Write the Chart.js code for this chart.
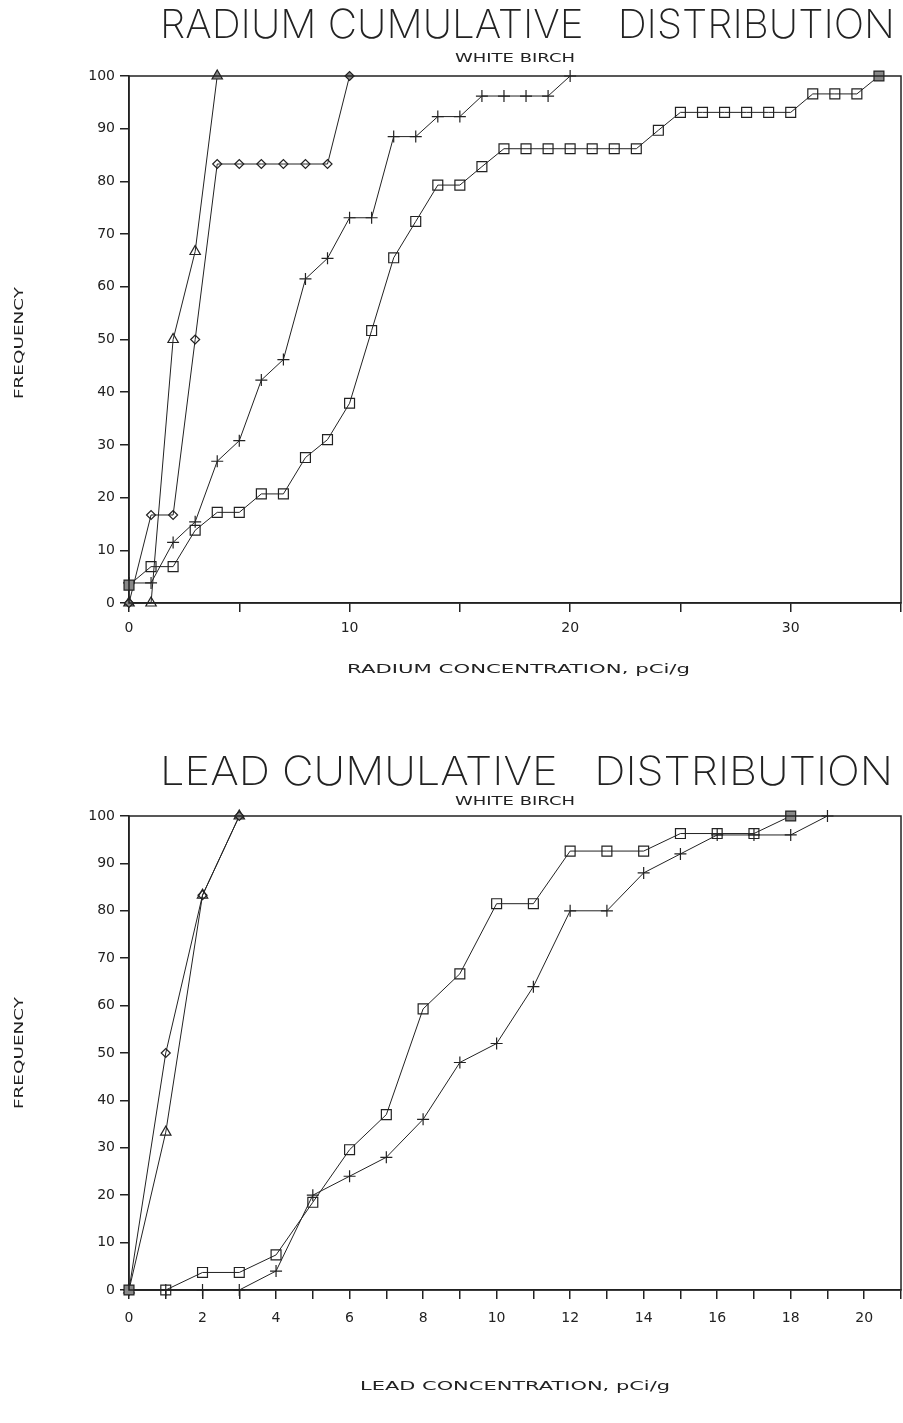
<!DOCTYPE html>
<html>
<head>
<meta charset="utf-8">
<script src="https://cdn.jsdelivr.net/npm/chart.js@4.4.0/dist/chart.umd.min.js"></script>
<style>
  body { margin: 0; background: #fff; }
  canvas { position: absolute; left: 0; }
  #radium { top: 0; }
  #lead { top: 705px; }
</style>
</head>
<body>
<canvas id="radium" width="903" height="705"></canvas>
<canvas id="lead" width="903" height="718"></canvas>
<script>
// cumulative frequency (%) at concentration 0, 1, 2, ... pCi/g
const freqTicks = [0, 10, 20, 30, 40, 50, 60, 70, 80, 90, 100];
const radiumXLabels = [0, 10, 20, 30];
const leadXLabels = [0, 2, 4, 6, 8, 10, 12, 14, 16, 18, 20];

const radiumSquare = [3.4, 6.9, 6.9, 13.8, 17.2, 17.2, 20.7, 20.7, 27.6, 31.0, 37.9, 51.7, 65.5, 72.4,
  79.3, 79.3, 82.8, 86.2, 86.2, 86.2, 86.2, 86.2, 86.2, 86.2, 89.7, 93.1, 93.1, 93.1, 93.1, 93.1, 93.1,
  96.6, 96.6, 96.6, 100];
const radiumPlus = [3.8, 3.8, 11.5, 15.4, 26.9, 30.8, 42.3, 46.2, 61.5, 65.4, 73.1, 73.1, 88.5, 88.5,
  92.3, 92.3, 96.2, 96.2, 96.2, 96.2, 100];
const radiumDiamond = [0, 16.7, 16.7, 50, 83.3, 83.3, 83.3, 83.3, 83.3, 83.3, 100];
const radiumTriangle = [0, 0, 50, 66.7, 100];

const leadSquare = [0, 0, 3.7, 3.7, 7.4, 18.5, 29.6, 37.0, 59.3, 66.7, 81.5, 81.5, 92.6, 92.6, 92.6,
  96.3, 96.3, 96.3, 100];
const leadPlus = [0, 0, 0, 0, 4, 20, 24, 28, 36, 48, 52, 64, 80, 80, 88, 92, 96, 96, 96, 100];
const leadDiamond = [0, 50, 83.3, 100];
const leadTriangle = [0, 33.3, 83.3, 100];

const ink = '#222';

function toPoints(values) {
  return values.map((y, x) => ({ x: x, y: y }));
}

function series(values, style, radius) {
  const last = values.length - 1;
  return {
    data: toPoints(values),
    borderColor: ink,
    borderWidth: 1,
    tension: 0,
    pointStyle: style,
    pointRadius: radius,
    pointBorderColor: ink,
    pointBorderWidth: 1.2,
    pointBackgroundColor: c => (c.dataIndex === last || c.dataIndex === 0 ? '#888' : 'rgba(0,0,0,0)'),
    clip: false
  };
}

// squeeze/stretch a line of text so it spans x0..x1
function fitText(ctx, text, x0, x1, y, font) {
  ctx.font = font;
  const w = ctx.measureText(text).width;
  ctx.save();
  ctx.translate(x0, y);
  ctx.scale((x1 - x0) / w, 1);
  ctx.textAlign = 'left';
  ctx.fillText(text, 0, 0);
  ctx.restore();
}

const plotter = {
  id: 'plotter',
  afterDraw(chart, args, o) {
    const { ctx, chartArea: a } = chart;
    ctx.save();
    ctx.strokeStyle = ink;
    ctx.lineWidth = 1.5;
    ctx.strokeRect(a.left, a.top, a.right - a.left, a.bottom - a.top);
    ctx.fillStyle = ink;
    ctx.textBaseline = 'alphabetic';
    fitText(ctx, o.title, o.titleX[0], o.titleX[1], o.titleY, '200 40px Inter');
    fitText(ctx, o.subtitle, 455, 575, o.subtitleY, '12px "DejaVu Sans"');
    fitText(ctx, o.xTitle, o.xTitleX[0], o.xTitleX[1], o.xTitleY, '12px "DejaVu Sans"');
    ctx.save();
    ctx.translate(23, o.yTitleY);
    ctx.rotate(-Math.PI / 2);
    fitText(ctx, 'FREQUENCY', -56, 56, 0, '12px "DejaVu Sans"');
    ctx.restore();
    ctx.restore();
  }
};

function makeChart(id, datasets, xMax, xStep, xLabels, frame) {
  const canvas = document.getElementById(id);
  return new Chart(canvas, {
    type: 'line',
    data: { datasets: datasets },
    options: {
      responsive: false,
      animation: false,
      layout: { autoPadding: false, padding: { top: frame.top, right: 2, left: 0, bottom: 0 } },
      plugins: { legend: { display: false }, tooltip: { enabled: false }, plotter: frame },
      scales: {
        x: {
          type: 'linear',
          min: 0,
          max: xMax,
          afterFit: s => {
            s.height = canvas.height - frame.bottom;
            s.paddingLeft = 0;
            s.paddingRight = 0;
          },
          ticks: {
            stepSize: xStep,
            autoSkip: false,
            maxRotation: 0,
            padding: frame.labelPad,
            color: ink,
            font: { family: 'DejaVu Sans', size: 14 },
            callback: v => (xLabels.includes(v) ? String(v) : '')
          },
          grid: { drawOnChartArea: false, tickLength: 9, color: ink, lineWidth: 1.5 },
          border: { color: ink, width: 1.5 }
        },
        y: {
          min: 0,
          max: 100,
          afterFit: s => {
            s.width = 129;
            s.paddingTop = 0;
            s.paddingBottom = 0;
          },
          ticks: {
            stepSize: 10,
            padding: 5,
            color: ink,
            font: { family: 'DejaVu Sans', size: 14 },
            callback: v => (freqTicks.includes(v) ? String(v) : '')
          },
          grid: { drawOnChartArea: false, tickLength: 9, color: ink, lineWidth: 1.5 },
          border: { color: ink, width: 1.5 }
        }
      }
    },
    plugins: [plotter]
  });
}

makeChart('radium', [
  series(radiumSquare, 'rect', 7),
  series(radiumPlus, 'cross', 6),
  series(radiumDiamond, 'rectRot', 4.5),
  series(radiumTriangle, 'triangle', 6)
], 35, 5, radiumXLabels, {
  top: 76, bottom: 603, labelPad: 8,
  title: 'RADIUM CUMULATIVE   DISTRIBUTION', titleX: [160, 895], titleY: 38,
  subtitle: 'WHITE BIRCH', subtitleY: 62,
  xTitle: 'RADIUM CONCENTRATION, pCi/g', xTitleX: [347, 690], xTitleY: 673,
  yTitleY: 343
});

makeChart('lead', [
  series(leadSquare, 'rect', 7),
  series(leadPlus, 'cross', 6),
  series(leadDiamond, 'rectRot', 4.5),
  series(leadTriangle, 'triangle', 6)
], 21, 1, leadXLabels, {
  top: 111, bottom: 585, labelPad: 11,
  title: 'LEAD CUMULATIVE   DISTRIBUTION', titleX: [160, 893], titleY: 80,
  subtitle: 'WHITE BIRCH', subtitleY: 100,
  xTitle: 'LEAD CONCENTRATION, pCi/g', xTitleX: [360, 670], xTitleY: 685,
  yTitleY: 348
});
</script>
</body>
</html>
